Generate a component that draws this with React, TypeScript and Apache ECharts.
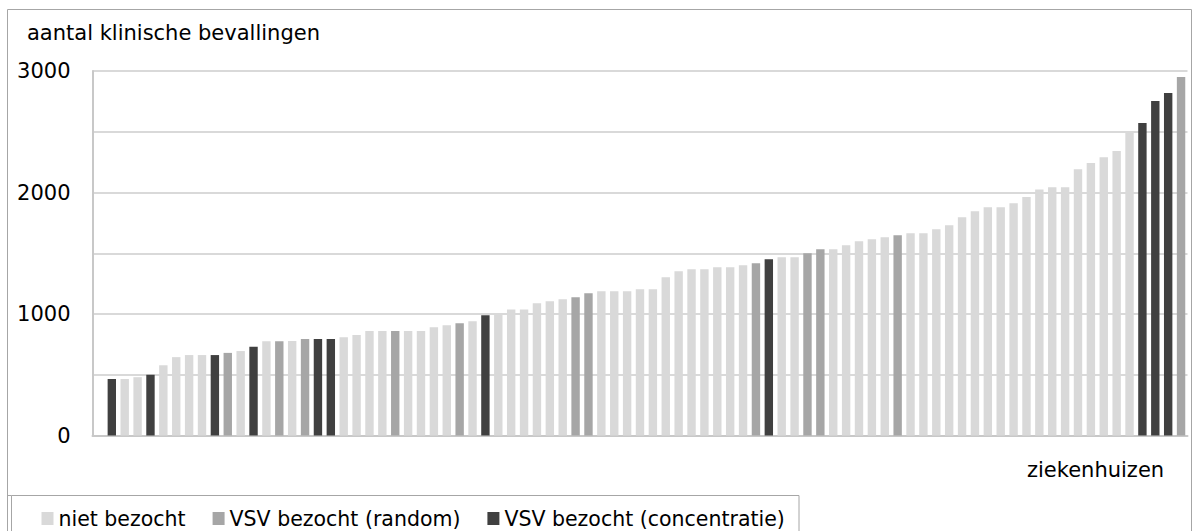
import React, { useEffect, useRef } from "react";
import * as echarts from "echarts";

// Number of clinical births per hospital (sorted ascending)
const values = [
  465, 465, 480, 500, 578, 645, 662, 662, 662, 680,
  695, 730, 775, 775, 778, 795, 795, 795, 808, 828,
  860, 860, 860, 860, 860, 890, 907, 923, 940, 990,
  1005, 1038, 1038, 1088, 1104, 1121, 1137, 1170, 1187, 1187,
  1187, 1203, 1203, 1302, 1352, 1368, 1368, 1385, 1385, 1401,
  1418, 1451, 1467, 1467, 1500, 1533, 1533, 1566, 1599, 1615,
  1632, 1648, 1665, 1665, 1698, 1731, 1797, 1846, 1879, 1879,
  1912, 1962, 2025, 2044, 2044, 2192, 2242, 2291, 2341, 2497,
  2571, 2753, 2819, 2950,
];

// Group of each hospital: L = niet bezocht, M = random, D = concentratie
const groups = [
  "D", "L", "L", "D", "L", "L", "L", "L", "D", "M",
  "L", "D", "L", "M", "L", "M", "D", "D", "L", "L",
  "L", "L", "M", "L", "L", "L", "L", "M", "L", "D",
  "L", "L", "L", "L", "L", "L", "M", "M", "L", "L",
  "L", "L", "L", "L", "L", "L", "L", "L", "L", "L",
  "M", "D", "L", "L", "M", "M", "L", "L", "L", "L",
  "L", "M", "L", "L", "L", "L", "L", "L", "L", "L",
  "L", "L", "L", "L", "L", "L", "L", "L", "L", "L",
  "D", "D", "D", "M",
];

const groupKeys = ["L", "M", "D"];
const seriesNames = ["niet bezocht", "VSV bezocht (random)", "VSV bezocht (concentratie)"];
const seriesColors = ["#d9d9d9", "#a6a6a6", "#404040"];
const yTickLabels = [0, 1000, 2000, 3000];

const yTitle = "aantal klinische bevallingen";
const xTitle = "ziekenhuizen";

// a leading empty category, then one per hospital
const categories = ["", ...values.map((_, i) => String(i + 1))];

const FONT = "DejaVu Sans";

export default function App() {
  const ref = useRef<HTMLDivElement>(null);

  useEffect(() => {
    document.body.style.margin = "0";
    if (!ref.current) return;
    const chart = echarts.init(ref.current, undefined, { renderer: "svg" });

    const series = groupKeys.map((key, gi) => ({
      name: seriesNames[gi],
      type: "bar",
      stack: "all",
      barWidth: 8.4,
      itemStyle: { color: seriesColors[gi] },
      data: [null, ...values.map((v, i) => (groups[i] === key ? v : null))],
    }));

    chart.setOption({
      animation: false,
      backgroundColor: "#ffffff",
      textStyle: { fontFamily: FONT },
      grid: { left: 92.5, right: 4.5, top: 71, bottom: 95.5 },
      xAxis: {
        type: "category",
        data: categories,
        axisLine: { show: true, lineStyle: { color: "#c8c8c8", width: 2 } },
        axisTick: { show: false },
        axisLabel: { show: false },
        splitLine: { show: false },
      },
      yAxis: {
        type: "value",
        min: 0,
        max: 3000,
        interval: 500,
        axisLine: { show: true, lineStyle: { color: "#c8c8c8", width: 2 } },
        axisTick: { show: false },
        axisLabel: {
          margin: 22,
          fontSize: 21,
          fontFamily: FONT,
          color: "#000000",
          padding: [9, 0, 0, 0],
          formatter: (v: number) => (yTickLabels.includes(v) ? String(v) : ""),
        },
        splitLine: { show: true, lineStyle: { color: "#d9d9d9", width: 2 } },
      },
      legend: {
        show: true,
        left: 41.5,
        top: 508,
        padding: 0,
        itemGap: 27,
        itemWidth: 12,
        itemHeight: 13,
        icon: "rect",
        data: seriesNames,
        textStyle: { fontSize: 20.5, fontFamily: FONT, color: "#000000" },
      },
      graphic: [
        {
          type: "rect",
          silent: true,
          shape: { x: 7.5, y: 9.5, width: 1184, height: 600 },
          style: { fill: "none", stroke: "#a6a6a6", lineWidth: 1 },
        },
        {
          type: "rect",
          silent: true,
          shape: { x: 11.5, y: 495.5, width: 787.5, height: 60 },
          style: { fill: "none", stroke: "#a6a6a6", lineWidth: 1 },
        },
        {
          type: "line",
          silent: true,
          shape: { x1: 7.5, y1: 495.5, x2: 11.5, y2: 495.5 },
          style: { stroke: "#a6a6a6", lineWidth: 1 },
        },
        {
          type: "text",
          silent: true,
          x: 27,
          y: 33,
          style: {
            text: yTitle,
            fontSize: 21,
            fontFamily: FONT,
            fill: "#000000",
            verticalAlign: "middle",
          },
        },
        {
          type: "text",
          silent: true,
          x: 1027,
          y: 470,
          style: {
            text: xTitle,
            fontSize: 21,
            fontFamily: FONT,
            fill: "#000000",
            verticalAlign: "middle",
          },
        },
      ],
      series,
    });

    return () => chart.dispose();
  }, []);

  return <div ref={ref} style={{ width: 1192, height: 531 }} />;
}
